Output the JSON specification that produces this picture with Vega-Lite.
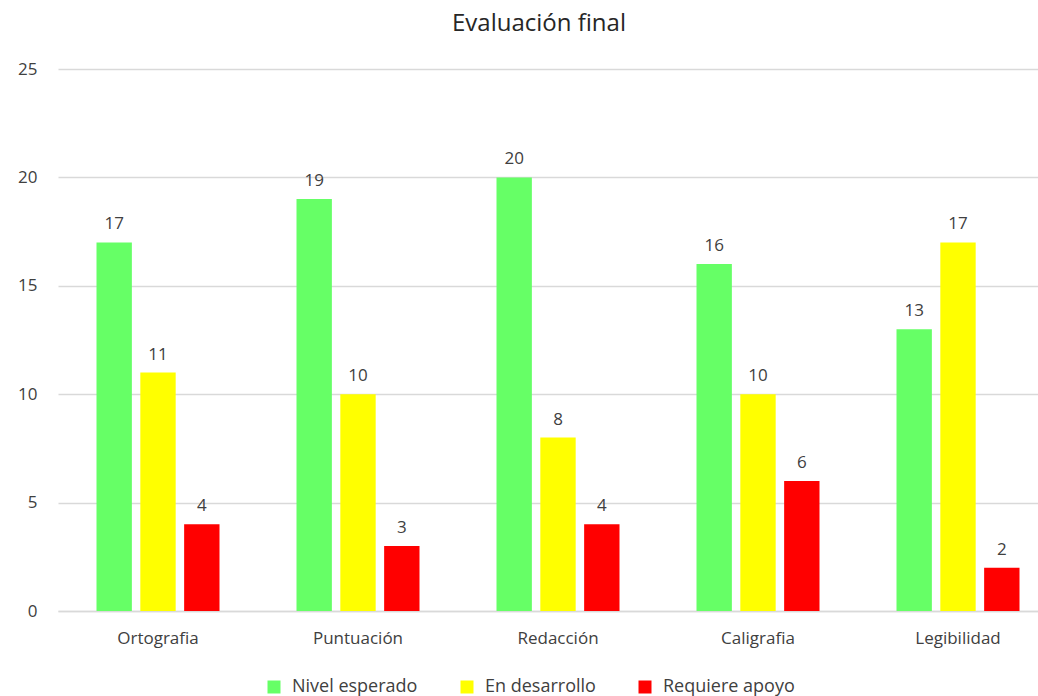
{
  "$schema": "https://vega.github.io/schema/vega-lite/v6.json",
  "autosize": "none",
  "width": 980,
  "height": 542,
  "padding": {"left": 58, "top": 69, "right": 0, "bottom": 85},
  "background": "white",
  "config": {"view": {"stroke": null}},
  "title": {"text": "Evaluación final", "font": "Open Sans", "fontSize": 24, "fontWeight": "normal", "color": "#262626", "offset": 24, "anchor": "middle", "frame": "group", "dx": -9},
  "data": {"values": [
    {"categoria": "Ortografia", "serie": "Nivel esperado", "valor": 17},
    {"categoria": "Ortografia", "serie": "En desarrollo", "valor": 11},
    {"categoria": "Ortografia", "serie": "Requiere apoyo", "valor": 4},
    {"categoria": "Puntuación", "serie": "Nivel esperado", "valor": 19},
    {"categoria": "Puntuación", "serie": "En desarrollo", "valor": 10},
    {"categoria": "Puntuación", "serie": "Requiere apoyo", "valor": 3},
    {"categoria": "Redacción", "serie": "Nivel esperado", "valor": 20},
    {"categoria": "Redacción", "serie": "En desarrollo", "valor": 8},
    {"categoria": "Redacción", "serie": "Requiere apoyo", "valor": 4},
    {"categoria": "Caligrafia", "serie": "Nivel esperado", "valor": 16},
    {"categoria": "Caligrafia", "serie": "En desarrollo", "valor": 10},
    {"categoria": "Caligrafia", "serie": "Requiere apoyo", "valor": 6},
    {"categoria": "Legibilidad", "serie": "Nivel esperado", "valor": 13},
    {"categoria": "Legibilidad", "serie": "En desarrollo", "valor": 17},
    {"categoria": "Legibilidad", "serie": "Requiere apoyo", "valor": 2}
  ]},
  "encoding": {
    "x": {"field": "categoria", "type": "nominal", "sort": ["Ortografia", "Puntuación", "Redacción", "Caligrafia", "Legibilidad"],
      "scale": {"range": [0, 1000], "paddingInner": 0.385, "paddingOuter": 0.1925},
      "axis": {"title": null, "labelAngle": 0, "labelFont": "Open Sans", "labelFontSize": 17, "labelColor": "#404040", "labelPadding": 19, "ticks": false, "domainColor": "#d9d9d9", "domainWidth": 1.5}},
    "xOffset": {"field": "serie", "type": "nominal", "sort": ["Nivel esperado", "En desarrollo", "Requiere apoyo"], "scale": {"paddingInner": 0.193, "paddingOuter": 0}},
    "y": {"field": "valor", "type": "quantitative", "scale": {"domain": [0, 25]},
      "axis": {"title": null, "values": [0, 5, 10, 15, 20, 25], "labelFont": "Open Sans", "labelFontSize": 17, "labelColor": "#404040", "labelPadding": 21, "ticks": false, "domain": false, "gridColor": "#d9d9d9", "gridWidth": 1.5}}
  },
  "layer": [
    {"mark": {"type": "bar"},
     "encoding": {"color": {"field": "serie", "type": "nominal", "sort": ["Nivel esperado", "En desarrollo", "Requiere apoyo"],
       "scale": {"domain": ["Nivel esperado", "En desarrollo", "Requiere apoyo"], "range": ["#66FF66", "#FFFF00", "#FF0000"]},
       "legend": {"title": null, "orient": "none", "legendX": 207, "legendY": 609, "direction": "horizontal", "symbolType": "square", "symbolSize": 169, "symbolStrokeWidth": 0, "labelFont": "Open Sans", "labelFontSize": 18, "labelColor": "#404040", "columnPadding": 40, "labelOffset": 9}}}},
    {"mark": {"type": "text", "baseline": "alphabetic", "dy": -13, "font": "Open Sans", "fontSize": 17, "color": "#404040"},
     "encoding": {"text": {"field": "valor", "type": "quantitative"}}}
  ]
}
